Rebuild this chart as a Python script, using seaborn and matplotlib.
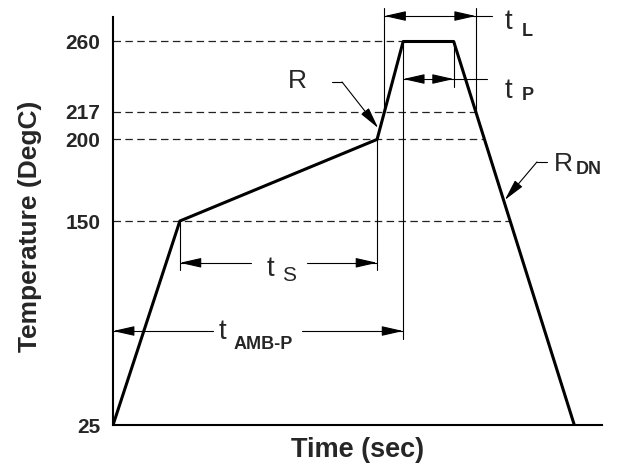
import numpy as np
import pandas as pd
import matplotlib
matplotlib.use('Agg')
import matplotlib.pyplot as plt
import seaborn as sns

# reflow profile corners (time in arbitrary sec, temp in DegC)
profile_time = [0, 41, 162, 178, 209, 283]
profile_temp = [25, 150, 200, 260, 260, 25]
ytick_vals = [25, 150, 200, 217, 260]
dashed_levels = [260, 217, 200, 150]


def arrowhead(ax, tip, tail):
    # line from tail to tip, filled head at tip
    ax.annotate('', xy=tip, xytext=tail, annotation_clip=False,
                arrowprops=dict(arrowstyle='-|>,head_length=1.1,head_width=0.25',
                                color='black', lw=0.8, shrinkA=0, shrinkB=0))


def thin(ax, xs, ys):
    ax.plot(xs, ys, color='black', lw=0.8, clip_on=False, zorder=2)


def label(ax, x, y, main, sub, sub_dx, sub_dy, sub_bold=True, sub_size=13):
    ax.text(x, y, main, fontsize=20, ha='left', va='center')
    ax.text(x + sub_dx, y + sub_dy, sub, fontsize=sub_size, ha='left', va='center',
            fontweight='bold' if sub_bold else 'normal')


sns.set_theme(style='white')
plt.rcParams['font.family'] = ['Liberation Sans', 'DejaVu Sans']

fig = plt.figure(figsize=(6.2, 4.7), dpi=100)
ax = fig.add_axes([0.1823, 0.0957, 0.7887, 0.8681])

profile = pd.DataFrame({'time': profile_time, 'temp': profile_temp})
sns.lineplot(data=profile, x='time', y='temp', sort=False, estimator=None,
             color='black', lw=2.2, ax=ax, zorder=3)

# where the down slope / rise cross a level
down_t = profile_time[4:6][::-1]
down_y = profile_temp[4:6][::-1]
rise_t = profile_time[2:4]
rise_y = profile_temp[2:4]


def down_at(level):
    return np.interp(level, down_y, down_t)


def rise_at(level):
    return np.interp(level, rise_y, rise_t)


peak_start = profile_time[3]
peak_end = profile_time[4]

# dashed reference levels
for lev in dashed_levels:
    x_end = peak_start if lev == 260 else down_at(lev)
    ax.plot([0, x_end], [lev, lev], ls=(0, (6, 3.5)), lw=0.9, color='#222222', zorder=1)

# t_L
xl1, xl2 = rise_at(217), down_at(217)
thin(ax, [xl1, xl1], [280.5, 217])
thin(ax, [xl2, xl2], [280.5, 217])
thin(ax, [xl1, 232.5], [275.6, 275.6])
arrowhead(ax, (xl1, 275.6), (xl1 + 12, 275.6))
arrowhead(ax, (xl2, 275.6), (xl2 - 12, 275.6))
label(ax, 240.5, 272, 't', 'L', 10.5, -6)

# t_P
thin(ax, [peak_end, peak_end], [260, 232])
thin(ax, [peak_start, 229.4], [237, 237])
arrowhead(ax, (peak_start, 237), (peak_start + 12, 237))
arrowhead(ax, (peak_end, 237), (peak_end - 12, 237))
label(ax, 240.5, 229.7, 't', 'P', 10.5, -3)

# t_S
ts1, ts2 = profile_time[1], profile_time[2]
thin(ax, [ts1, ts1], [150, 120])
thin(ax, [ts2, ts2], [200, 120])
thin(ax, [ts1, 84.4], [124.4, 124.4])
thin(ax, [118.8, ts2], [124.4, 124.4])
arrowhead(ax, (ts1, 124.4), (ts1 + 12, 124.4))
arrowhead(ax, (ts2, 124.4), (ts2 - 12, 124.4))
label(ax, 94.5, 120.6, 't', 'S', 9.2, -4, sub_bold=False, sub_size=15)

# t_AMB-P
thin(ax, [peak_start, peak_start], [260, 77.7])
thin(ax, [0, 61.3], [82.6, 82.6])
thin(ax, [116, peak_start], [82.6, 82.6])
arrowhead(ax, (0, 82.6), (12, 82.6))
arrowhead(ax, (peak_start, 82.6), (peak_start - 12, 82.6))
label(ax, 65, 81.7, 't', 'AMB-P', 9.2, -7.4)

# ramp-up rate R
thin(ax, [134.4, 140.5], [235.2, 235.2])
arrowhead(ax, (rise_at(207) - 1.2, 207), (140.5, 235.2))
ax.text(112.9, 235.8, 'R', fontsize=19, ha='center', va='center')

# ramp-down rate R_DN
thin(ax, [266.3, 260.1], [186.2, 186.2])
arrowhead(ax, (down_at(162.9) + 0.8, 162.9), (260.1, 186.2))
ax.text(270.5, 184.9, 'R', fontsize=19, ha='left', va='center')
ax.text(284.0, 181.4, 'DN', fontsize=13, ha='left', va='center', fontweight='bold')

ax.set_xlim(0, 300)
ax.set_ylim(25, 275)
ax.set_xticks([])
ax.set_yticks(ytick_vals)
ax.set_yticklabels([str(v) for v in ytick_vals], fontsize=15, fontweight='bold')
ax.tick_params(axis='y', length=0, pad=9)
for side in ['top', 'right']:
    ax.spines[side].set_visible(False)
for side in ['left', 'bottom']:
    ax.spines[side].set_linewidth(1.5)
    ax.spines[side].set_color('black')

ax.set_xlabel('Time (sec)', fontsize=19.5, fontweight='bold')
ax.set_ylabel('Temperature (DegC)', fontsize=19, fontweight='bold')
ax.xaxis.set_label_coords(0.5, -0.029)
ax.yaxis.set_label_coords(-0.145, 0.488)

fig.savefig('out.png', dpi=100)
